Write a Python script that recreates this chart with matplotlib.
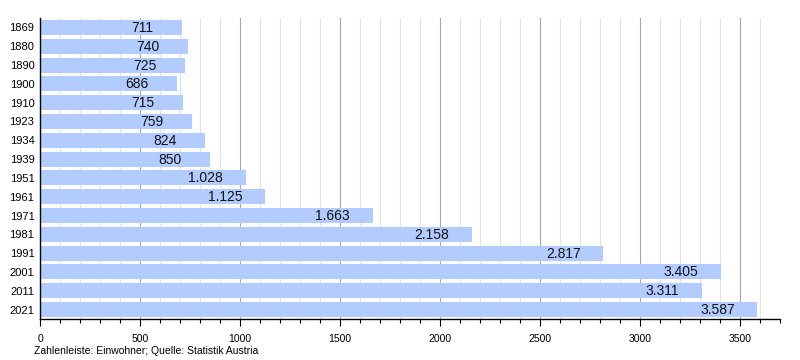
import matplotlib
matplotlib.use("Agg")
import matplotlib.pyplot as plt
from matplotlib.ticker import MultipleLocator

years = ["1869", "1880", "1890", "1900", "1910", "1923", "1934", "1939",
         "1951", "1961", "1971", "1981", "1991", "2001", "2011", "2021"]
population = [711, 740, 725, 686, 715, 759, 824, 850,
              1028, 1125, 1663, 2158, 2817, 3405, 3311, 3587]

plt.rcParams['font.family'] = ['Liberation Sans', 'DejaVu Sans']

fig = plt.figure(figsize=(8, 3.6), dpi=100)
ax = fig.add_axes([0.05, 0.114, 0.925, 0.836])

pos = list(range(len(years)))
ax.barh(pos, population, height=0.8, color='#b3ccff', zorder=2)

# value labels sit inside the bar, a bit left of its end
for p, v in zip(pos, population):
    label = f"{v:,}".replace(",", ".")
    ax.text(v - 200, p + 0.03, label, ha='center', va='center', fontsize=10,
            color='#111111', zorder=3)

ax.set_yticks(pos)
ax.set_yticklabels(years, fontsize=8)
ax.set_ylim(len(years) - 0.5, -0.5)
ax.set_xlim(0, 3700)

ax.xaxis.set_major_locator(MultipleLocator(500))
ax.xaxis.set_minor_locator(MultipleLocator(100))
ax.tick_params(axis='x', which='major', length=5, width=0.8, labelsize=7.5, pad=6)
ax.tick_params(axis='x', which='minor', length=3, width=0.8)
ax.tick_params(axis='y', length=0, pad=4)

ax.grid(axis='x', which='major', color='#a8a8a8', linewidth=0.8, zorder=0)
ax.grid(axis='x', which='minor', color='#e2e2e2', linewidth=0.8, zorder=0)
ax.set_axisbelow(True)

for s in ['top', 'right']:
    ax.spines[s].set_visible(False)
ax.spines['left'].set_linewidth(1.0)
ax.spines['bottom'].set_linewidth(1.0)

fig.text(0.043, 0.018, "Zahlenleiste: Einwohner; Quelle: Statistik Austria", fontsize=7.5)

fig.savefig("out.png", dpi=100)
